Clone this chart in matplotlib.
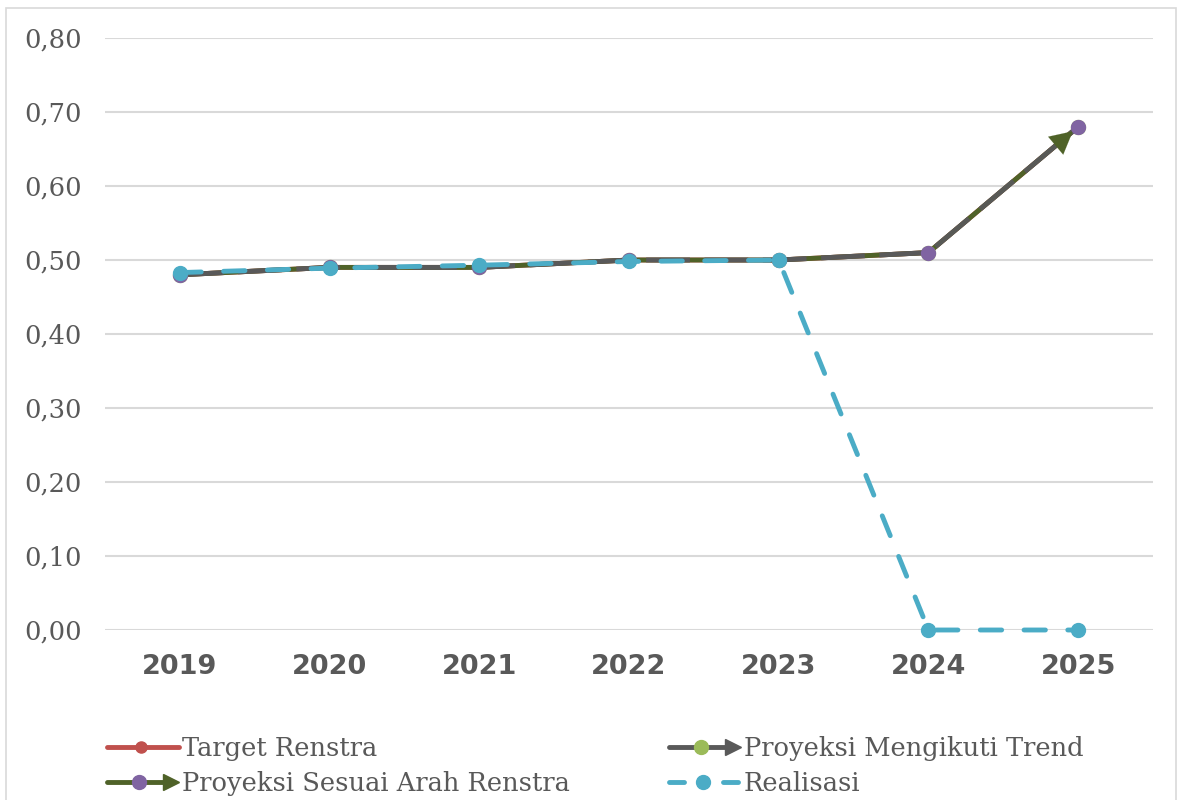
import matplotlib
matplotlib.use("Agg")
import matplotlib.pyplot as plt
from matplotlib.lines import Line2D
from matplotlib.legend_handler import HandlerBase
from matplotlib.patches import Rectangle

years = ["2019", "2020", "2021", "2022", "2023", "2024", "2025"]
target_renstra = [0.48, 0.49, 0.49, 0.50, 0.50, 0.51, 0.68]
proyeksi_trend = [0.48, 0.49, 0.49, 0.50, 0.50, 0.51, 0.68]
proyeksi_renstra = [0.48, 0.49, 0.49, 0.50, 0.50, 0.51, 0.68]
realisasi = [0.483, 0.489, 0.493, 0.498, 0.500, 0.0, 0.0]
yticks = [0.0, 0.1, 0.2, 0.3, 0.4, 0.5, 0.6, 0.7, 0.8]
ytick_labels = ["0,00", "0,10", "0,20", "0,30", "0,40", "0,50", "0,60", "0,70", "0,80"]

RED = "#C0504D"
GREY = "#595959"
LGREEN = "#9BBB59"
DGREEN = "#4F6228"
PURPLE = "#8064A2"
BLUE = "#4BACC6"
TXT = "#595959"
GRID = "#D9D9D9"

W, H = 1183, 800
fig = plt.figure(figsize=(W / 100, H / 100), dpi=100)
fig.patches.append(Rectangle((6 / W, -0.05), 1170 / W, 1 - 8 / H + 0.05,
                             transform=fig.transFigure, fill=False,
                             edgecolor=GRID, lw=1.2, zorder=0))
ax = fig.add_axes([105 / W, 1 - 630 / H, 1048 / W, 592 / H])
x = list(range(len(years)))

LW = 3.5
MS = 10

ax.plot(x, target_renstra, color=RED, lw=LW, marker="o", ms=6, zorder=2)
ax.plot(x, proyeksi_trend, color=DGREEN, lw=LW, marker="o", ms=MS,
        mfc=LGREEN, mec=LGREEN, zorder=3)
ax.plot(x, proyeksi_renstra, color=GREY, lw=LW, zorder=4,
        dashes=(9, 3), solid_capstyle="butt")
ax.plot(x, proyeksi_renstra, color="none", marker="o", ms=MS,
        mfc=PURPLE, mec=PURPLE, zorder=5)
ax.annotate("", xy=(x[-1], proyeksi_renstra[-1]),
            xytext=(x[-2], proyeksi_renstra[-2]),
            arrowprops=dict(arrowstyle="-|>,head_length=0.8,head_width=0.42",
                            mutation_scale=20,
                            color=DGREEN, lw=0.1, shrinkA=0, shrinkB=5),
            zorder=4.5)
ax.plot(x, realisasi, color=BLUE, lw=LW, marker="o", ms=MS,
        mfc=BLUE, mec=BLUE, dashes=(4.4, 4.6), dash_capstyle="round",
        zorder=6, clip_on=False)

ax.set_xlim(-0.5, len(years) - 0.5)
ax.set_ylim(0, 0.8)
ax.set_yticks(yticks)
ax.set_yticklabels(ytick_labels, family="DejaVu Serif", fontsize=18.5, color=TXT)
ax.set_xticks(x)
ax.set_xticklabels(years, family="DejaVu Sans", fontweight="bold",
                   fontsize=19.5, color=TXT)
ax.tick_params(axis="y", length=0, pad=17)
ax.tick_params(axis="x", length=0, pad=17)
ax.grid(axis="y", color=GRID, lw=1.5)
ax.set_axisbelow(True)
for s in ax.spines.values():
    s.set_visible(False)


class LegendHandler(HandlerBase):
    def __init__(self, lcolor, mcolor, arrow=False, dashed=False, msize=MS):
        super().__init__()
        self.lcolor = lcolor
        self.mcolor = mcolor
        self.arrow = arrow
        self.dashed = dashed
        self.msize = msize

    def create_artists(self, legend, orig_handle, xdescent, ydescent,
                       width, height, fontsize, trans):
        y = height / 2 - ydescent
        x0 = -xdescent
        x1 = width - xdescent
        arts = []
        if self.dashed:
            segs = [(x0 + 2, x0 + width * 0.24), (x1 - width * 0.24, x1 - 2)]
            for a, b in segs:
                l = Line2D([a, b], [y, y], color=self.lcolor, lw=LW,
                           solid_capstyle="round")
                arts.append(l)
        else:
            xe = x1 - (width * 0.18 if self.arrow else 0)
            l = Line2D([x0 + 2, xe], [y, y], color=self.lcolor, lw=LW,
                       solid_capstyle="round")
            arts.append(l)
        if self.arrow:
            a = Line2D([x1 - width * 0.1], [y], marker=">", ms=11,
                       color=self.lcolor, mec=self.lcolor, lw=0)
            arts.append(a)
        mx = (x0 + x1) / 2 if not self.arrow else x0 + width * 0.47
        m = Line2D([mx], [y], marker="o", ms=self.msize, color=self.mcolor,
                   mec=self.mcolor, lw=0)
        arts.append(m)
        for art in arts:
            art.set_transform(trans)
        return arts


h_target = Line2D([], [], color=RED)
h_renstra = Line2D([], [], color=DGREEN)
h_trend = Line2D([], [], color=GREY)
h_real = Line2D([], [], color=BLUE)

common = dict(frameon=False, loc="upper left", borderpad=0, borderaxespad=0,
              handlelength=2.9, handletextpad=0.12, labelspacing=0.39,
              prop=dict(family="DejaVu Serif", size=18.5), labelcolor=TXT)

leg1 = fig.legend([h_target, h_renstra],
                  ["Target Renstra", "Proyeksi Sesuai Arah Renstra"],
                  bbox_to_anchor=(104 / W, 1 - 736 / H),
                  handler_map={h_target: LegendHandler(RED, RED, msize=8),
                               h_renstra: LegendHandler(DGREEN, PURPLE, arrow=True)},
                  **common)
leg2 = fig.legend([h_trend, h_real],
                  ["Proyeksi Mengikuti Trend", "Realisasi"],
                  bbox_to_anchor=(666 / W, 1 - 736 / H),
                  handler_map={h_trend: LegendHandler(GREY, LGREEN, arrow=True),
                               h_real: LegendHandler(BLUE, BLUE, dashed=True)},
                  **common)

fig.savefig("out.png", dpi=100)
